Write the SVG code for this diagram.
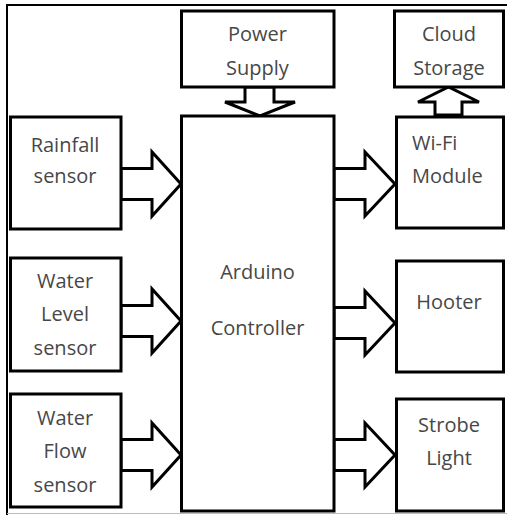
<svg xmlns="http://www.w3.org/2000/svg" width="507" height="515" viewBox="0 0 507 515">
<style>
.box{fill:#fff;stroke:#000;stroke-width:3}
.arr{fill:#fff;stroke:#000;stroke-width:3;stroke-linejoin:miter}
text{font-family:"Open Sans","Liberation Sans",sans-serif;font-size:20px;fill:#474747;text-anchor:middle}
</style>
<rect width="507" height="515" fill="#fff"/>
<g id="frame">
<line x1="7" y1="5" x2="7" y2="515" stroke="#000" stroke-width="2"/>
<line x1="6" y1="5" x2="507" y2="5" stroke="#000" stroke-width="2"/>
<line x1="7" y1="513.5" x2="507" y2="513.5" stroke="#bbb" stroke-width="1"/>
</g>
<g id="connectors">
<polygon class="arr" points="245,87 274,87 274,102 295,102 260,116 225,102 245,102"/>
<polygon class="arr" points="435,115 435,102 418,102 448.5,87 479,102 462,102 462,115"/>
<polygon class="arr" points="121,168.5 152,168.5 152,152 181,184 152,216 152,199.5 121,199.5"/>
<polygon class="arr" points="121,305.5 152,305.5 152,289 181,321 152,353 152,336.5 121,336.5"/>
<polygon class="arr" points="121,439.5 152,439.5 152,423 181,455 152,487 152,470.5 121,470.5"/>
<polygon class="arr" points="334,168.5 365,168.5 365,152 395,184 365,216 365,199.5 334,199.5"/>
<polygon class="arr" points="334,307.5 365,307.5 365,291 395,323 365,355 365,338.5 334,338.5"/>
<polygon class="arr" points="334,439.5 365,439.5 365,423 395,455 365,487 365,470.5 334,470.5"/>
</g>
<g id="power">
<rect class="box" x="181.5" y="11" width="152.5" height="76"/>
<text x="257.5" y="41">Power</text>
<text x="257.5" y="75">Supply</text>
</g>
<g id="cloud">
<rect class="box" x="394.5" y="11" width="109" height="76"/>
<text x="449" y="41">Cloud</text>
<text x="449" y="75">Storage</text>
</g>
<g id="rainfall">
<rect class="box" x="10.5" y="117" width="110.5" height="112"/>
<text x="65" y="152">Rainfall</text>
<text x="65" y="183">sensor</text>
</g>
<g id="waterlevel">
<rect class="box" x="10.5" y="258" width="110.5" height="113"/>
<text x="65" y="288">Water</text>
<text x="65" y="321">Level</text>
<text x="65" y="355">sensor</text>
</g>
<g id="waterflow">
<rect class="box" x="10.5" y="394" width="110.5" height="113"/>
<text x="65" y="425">Water</text>
<text x="65" y="458">Flow</text>
<text x="65" y="492">sensor</text>
</g>
<g id="arduino">
<rect class="box" x="181.5" y="116" width="152.5" height="395"/>
<text x="257.5" y="279">Arduino</text>
<text x="257.5" y="335">Controller</text>
</g>
<g id="wifi">
<rect class="box" x="396.5" y="117" width="107" height="111"/>
<text x="412" y="150" style="text-anchor:start">Wi-Fi</text>
<text x="412" y="183" style="text-anchor:start">Module</text>
</g>
<g id="hooter">
<rect class="box" x="396.5" y="261" width="107" height="111"/>
<text x="449" y="309">Hooter</text>
</g>
<g id="strobe">
<rect class="box" x="396.5" y="399" width="107" height="112"/>
<text x="449" y="432">Strobe</text>
<text x="449" y="465">Light</text>
</g>
</svg>
